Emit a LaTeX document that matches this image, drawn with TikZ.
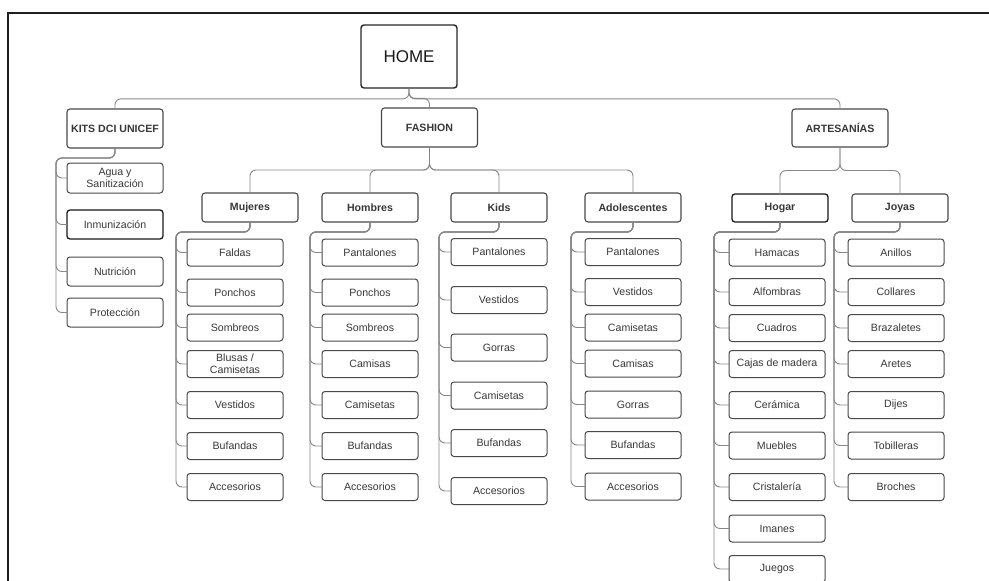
\documentclass[tikz,border=0pt]{standalone}
\usepackage{fontspec}
\setmainfont{Liberation Sans}
\usetikzlibrary{positioning,calc}
\definecolor{BoxLine}{RGB}{72,72,72}
\definecolor{WireGray}{RGB}{135,135,135}
\definecolor{InkGray}{RGB}{55,55,55}
\tikzset{
  homebox/.style={draw=black!85,line width=1.4pt,rounded corners=3pt,
    minimum width=96pt,minimum height=63pt,font=\fontsize{17}{20}\selectfont,
    text=black!90},
  headbox/.style={draw=BoxLine,line width=1.1pt,rounded corners=3pt,
    minimum width=96pt,minimum height=29pt,inner xsep=2pt,align=center,
    outer sep=0pt,font=\fontsize{10.6}{12}\selectfont\bfseries,text=InkGray},
  itembox/.style={draw=BoxLine,line width=1pt,rounded corners=3pt,
    minimum width=96pt,minimum height=27pt,inner xsep=2pt,inner ysep=1.5pt,
    outer sep=0pt,align=center,font=\fontsize{10.6}{12}\selectfont,text=InkGray},
  darkline/.style={draw=black!90,line width=1.3pt},
  % parent -> child one level down, bus halfway between them
  bus/.style={draw=WireGray,line width=0.9pt,rounded corners=6pt,
    to path={(\tikztostart) |- ($(\tikztostart)!.5!(\tikztotarget)$)
      -| (\tikztotarget)}},
  % parent -> listed item, via a spine left of the column
  leftbus/.style={draw=WireGray,line width=0.9pt,rounded corners=6pt,
    to path={(\tikztostart) -- ++(0,-10pt)
      -| ([xshift=-#1]\tikztotarget.west) -- (\tikztotarget.west)}},
  leftbus/.default=12pt
}
\begin{document}
\begin{tikzpicture}[x=1pt,y=1pt,node distance=14pt]
  \useasboundingbox (0,0) rectangle (989,-581);
  % frame edges
  \draw[line width=2pt,draw=black!88] (8,-581) -- (8,-13) -- (989,-13);

  % top levels
  \node[homebox] (home) at (409,-56.5) {HOME};
  \node[headbox,minimum height=39pt] (kits) at (115,-128.5) {KITS DCI UNICEF};
  \node[headbox,minimum height=39pt] (fashion) at (429.5,-127.5) {FASHION};
  \node[headbox,minimum height=38pt] (artes) at (840,-128) {ARTESANÍAS};
  \draw[bus] (home.south) to (kits.north);
  \draw[bus] (home.south) to (fashion.north);
  \draw[bus] (home.south) to (artes.north);

  \node[headbox] (mujeres) at (250,-207.5) {Mujeres};
  \node[headbox] (hombres) at (370,-207.5) {Hombres};
  \node[headbox] (kids) at (499,-207.5) {Kids};
  \node[headbox] (adol) at (633,-207.5) {Adolescentes};
  \node[headbox,darkline,minimum height=28pt] (hogar) at (780,-208) {Hogar};
  \node[headbox,minimum height=28pt] (joyas) at (900,-208) {Joyas};
  \draw[bus] (fashion.south) to (mujeres.north);
  \draw[bus] (fashion.south) to (hombres.north);
  \draw[bus] (fashion.south) to (kids.north);
  \draw[bus] (fashion.south) to (adol.north);
  \draw[bus] (artes.south) to (hogar.north);
  \draw[bus] (artes.south) to (joyas.north);

  % KITS DCI UNICEF
  \node[itembox,minimum height=30pt,below=15pt of kits] (agua) {Agua y\\Sanitización};
  \node[itembox,darkline,minimum height=29pt,below=17pt of agua] (inmu) {Inmunización};
  \node[itembox,minimum height=29pt,below=18pt of inmu] (nutri) {Nutrición};
  \node[itembox,minimum height=29pt,below=12pt of nutri] (prot) {Protección};
  \draw[leftbus=11pt] (kits.south) to (agua);
  \draw[leftbus=11pt] (kits.south) to (inmu);
  \draw[leftbus=11pt] (kits.south) to (nutri);
  \draw[leftbus=11pt] (kits.south) to (prot);

  % Mujeres
  \node[itembox,below=17pt of mujeres,xshift=-15pt] (mFaldas) {Faldas};
  \node[itembox,below=13pt of mFaldas] (mPonchos) {Ponchos};
  \node[itembox,below=8pt of mPonchos] (mSombreos) {Sombreos};
  \node[itembox,below=9.5pt of mSombreos] (mBlusas) {Blusas /\\Camisetas};
  \node[itembox,below=14pt of mBlusas] (mVestidos) {Vestidos};
  \node[itembox,below=14pt of mVestidos] (mBufandas) {Bufandas};
  \node[itembox,below=14pt of mBufandas] (mAcces) {Accesorios};
  \draw[leftbus=11pt] (mujeres.south) to (mFaldas);
  \draw[leftbus=11pt] (mujeres.south) to (mPonchos);
  \draw[leftbus=11pt] (mujeres.south) to (mSombreos);
  \draw[leftbus=11pt] (mujeres.south) to (mBlusas);
  \draw[leftbus=11pt] (mujeres.south) to (mVestidos);
  \draw[leftbus=11pt] (mujeres.south) to (mBufandas);
  \draw[leftbus=11pt] (mujeres.south) to (mAcces);

  % Hombres
  \node[itembox,below=17pt of hombres] (hPantalones) {Pantalones};
  \node[itembox,below=13pt of hPantalones] (hPonchos) {Ponchos};
  \node[itembox,below=8pt of hPonchos] (hSombreos) {Sombreos};
  \node[itembox,below=9.5pt of hSombreos] (hCamisas) {Camisas};
  \node[itembox,below=14pt of hCamisas] (hCamisetas) {Camisetas};
  \node[itembox,below=14pt of hCamisetas] (hBufandas) {Bufandas};
  \node[itembox,below=14pt of hBufandas] (hAcces) {Accesorios};
  \draw[leftbus] (hombres.south) to (hPantalones);
  \draw[leftbus] (hombres.south) to (hPonchos);
  \draw[leftbus] (hombres.south) to (hSombreos);
  \draw[leftbus] (hombres.south) to (hCamisas);
  \draw[leftbus] (hombres.south) to (hCamisetas);
  \draw[leftbus] (hombres.south) to (hBufandas);
  \draw[leftbus] (hombres.south) to (hAcces);

  % Kids
  \node[itembox,below=16.5pt of kids] (kPantalones) {Pantalones};
  \node[itembox,below=21pt of kPantalones] (kVestidos) {Vestidos};
  \node[itembox,below=20.5pt of kVestidos] (kGorras) {Gorras};
  \node[itembox,below=21pt of kGorras] (kCamisetas) {Camisetas};
  \node[itembox,below=20.5pt of kCamisetas] (kBufandas) {Bufandas};
  \node[itembox,below=21pt of kBufandas] (kAcces) {Accesorios};
  \draw[leftbus] (kids.south) to (kPantalones);
  \draw[leftbus] (kids.south) to (kVestidos);
  \draw[leftbus] (kids.south) to (kGorras);
  \draw[leftbus] (kids.south) to (kCamisetas);
  \draw[leftbus] (kids.south) to (kBufandas);
  \draw[leftbus] (kids.south) to (kAcces);

  % Adolescentes
  \node[itembox,below=16.5pt of adol] (aPantalones) {Pantalones};
  \node[itembox,below=13pt of aPantalones] (aVestidos) {Vestidos};
  \node[itembox,below=8.5pt of aVestidos] (aCamisetas) {Camisetas};
  \node[itembox,below=9pt of aCamisetas] (aCamisas) {Camisas};
  \node[itembox,below=14pt of aCamisas] (aGorras) {Gorras};
  \node[itembox,below=13.5pt of aGorras] (aBufandas) {Bufandas};
  \node[itembox,below=14.5pt of aBufandas] (aAcces) {Accesorios};
  \draw[leftbus=14pt] (adol.south) to (aPantalones);
  \draw[leftbus=14pt] (adol.south) to (aVestidos);
  \draw[leftbus=14pt] (adol.south) to (aCamisetas);
  \draw[leftbus=14pt] (adol.south) to (aCamisas);
  \draw[leftbus=14pt] (adol.south) to (aGorras);
  \draw[leftbus=14pt] (adol.south) to (aBufandas);
  \draw[leftbus=14pt] (adol.south) to (aAcces);

  % Hogar
  \node[itembox,below=17pt of hogar,xshift=-3pt] (hgHamacas) {Hamacas};
  \node[itembox,below=12.5pt of hgHamacas] (hgAlfombras) {Alfombras};
  \node[itembox,below=9pt of hgAlfombras] (hgCuadros) {Cuadros};
  \node[itembox,below=9pt of hgCuadros] (hgCajas) {Cajas de madera};
  \node[itembox,below=14pt of hgCajas] (hgCeramica) {Cerámica};
  \node[itembox,below=13.5pt of hgCeramica] (hgMuebles) {Muebles};
  \node[itembox,below=14.5pt of hgMuebles] (hgCristal) {Cristalería};
  \node[itembox,below=14.5pt of hgCristal] (hgImanes) {Imanes};
  \node[itembox,below=13.5pt of hgImanes] (hgJuegos) {Juegos};
  \draw[leftbus=15pt] (hogar.south) to (hgHamacas);
  \draw[leftbus=15pt] (hogar.south) to (hgAlfombras);
  \draw[leftbus=15pt] (hogar.south) to (hgCuadros);
  \draw[leftbus=15pt] (hogar.south) to (hgCajas);
  \draw[leftbus=15pt] (hogar.south) to (hgCeramica);
  \draw[leftbus=15pt] (hogar.south) to (hgMuebles);
  \draw[leftbus=15pt] (hogar.south) to (hgCristal);
  \draw[leftbus=15pt] (hogar.south) to (hgImanes);
  \draw[leftbus=15pt] (hogar.south) to (hgJuegos);

  % Joyas
  \node[itembox,below=17pt of joyas,xshift=-4pt] (jAnillos) {Anillos};
  \node[itembox,below=12.5pt of jAnillos] (jCollares) {Collares};
  \node[itembox,below=9pt of jCollares] (jBrazaletes) {Brazaletes};
  \node[itembox,below=9pt of jBrazaletes] (jAretes) {Aretes};
  \node[itembox,below=14pt of jAretes] (jDijes) {Dijes};
  \node[itembox,below=13.5pt of jDijes] (jTobilleras) {Tobilleras};
  \node[itembox,below=14.5pt of jTobilleras] (jBroches) {Broches};
  \draw[leftbus=14pt] (joyas.south) to (jAnillos);
  \draw[leftbus=14pt] (joyas.south) to (jCollares);
  \draw[leftbus=14pt] (joyas.south) to (jBrazaletes);
  \draw[leftbus=14pt] (joyas.south) to (jAretes);
  \draw[leftbus=14pt] (joyas.south) to (jDijes);
  \draw[leftbus=14pt] (joyas.south) to (jTobilleras);
  \draw[leftbus=14pt] (joyas.south) to (jBroches);
\end{tikzpicture}
\end{document}
